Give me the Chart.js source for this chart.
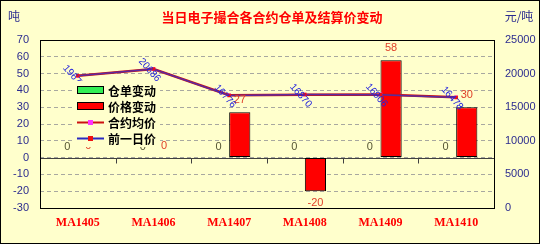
<!DOCTYPE html>
<html>
<head>
<meta charset="utf-8">
<script src="https://cdn.jsdelivr.net/npm/chart.js@4/dist/chart.umd.min.js"></script>
<style>
html,body{margin:0;padding:0;background:#fff;}
#wrap{width:542px;height:247px;position:relative;}
</style>
</head>
<body>
<div id="wrap"><canvas id="c" width="542" height="247"></canvas></div>
<script>
// ---- data ----
const categories = ['MA1405', 'MA1406', 'MA1407', 'MA1408', 'MA1409', 'MA1410'];
const receiptChange = [0, 0, 0, 0, 0, 0];        // 仓单变动 (吨)
const priceChange = [0, 0, 27, -20, 58, 30];      // 价格变动
const avgPrice = [19677, 20686, 16776, 16870, 16906, 16478];   // 合约均价
const prevPrice = [19677, 20686, 16749, 16890, 16848, 16448];  // 前一日价
const leftTicks = [-30, -20, -10, 0, 10, 20, 30, 40, 50, 60, 70];
const rightTicks = [0, 5000, 10000, 15000, 20000, 25000];
const seriesNames = ['仓单变动', '价格变动', '合约均价', '前一日价'];
const titleText = '当日电子撮合各合约仓单及结算价变动';
const leftUnit = '吨';
const rightUnit = '元/吨';

const BG = '#FFFFCC';
const NAVY = '#2B2B8F';

const decorPlugin = {
  id: 'decor',
  beforeDraw(chart) {
    const ctx = chart.ctx;
    ctx.save();
    ctx.fillStyle = '#fff';
    ctx.fillRect(0, 0, 542, 247);
    ctx.fillStyle = BG;
    ctx.fillRect(0, 0, 540, 244);
    ctx.strokeStyle = '#000';
    ctx.lineWidth = 1;
    ctx.strokeRect(0.5, 0.5, 539, 243);
    ctx.fillStyle = '#FF0000';
    ctx.font = 'bold 13px "Noto Sans CJK SC"';
    ctx.textAlign = 'center';
    ctx.textBaseline = 'middle';
    ctx.fillText(titleText, 272, 17);
    ctx.fillStyle = NAVY;
    ctx.font = '12px "Noto Sans CJK SC"';
    ctx.fillText(leftUnit, 14, 16);
    ctx.fillText(rightUnit, 519, 16);
    ctx.restore();
  },
  beforeDatasetsDraw(chart) {
    const ctx = chart.ctx;
    const a = chart.chartArea;
    const y0 = Math.round(chart.scales.y.getPixelForValue(0)) + 0.5;
    ctx.save();
    ctx.strokeStyle = '#404040';
    ctx.lineWidth = 1;
    ctx.beginPath();
    ctx.moveTo(a.left, y0);
    ctx.lineTo(a.right, y0);
    const xs = chart.scales.x;
    for (let i = 1; i < categories.length; i++) {
      const bx = Math.round((xs.getPixelForValue(i - 1) + xs.getPixelForValue(i)) / 2) + 0.5;
      ctx.moveTo(bx, y0);
      ctx.lineTo(bx, y0 + 5);
    }
    ctx.stroke();
    ctx.strokeStyle = '#000';
    ctx.strokeRect(Math.round(a.left) + 0.5, Math.round(a.top) + 0.5,
      Math.round(a.right - a.left), Math.round(a.bottom - a.top));
    ctx.restore();
  },
  afterDatasetsDraw(chart) {
    const ctx = chart.ctx;
    ctx.save();
    ctx.textAlign = 'center';
    ctx.textBaseline = 'middle';
    ctx.font = '11px "Liberation Sans"';
    // bar labels
    const m0 = chart.getDatasetMeta(0), m1 = chart.getDatasetMeta(1);
    m0.data.forEach((el, i) => {
      const v = receiptChange[i];
      ctx.fillStyle = '#555533';
      ctx.fillText(String(v), el.x, v >= 0 ? el.y - 11 : el.y + 11);
    });
    m1.data.forEach((el, i) => {
      const v = priceChange[i];
      ctx.fillStyle = '#E0402A';
      ctx.fillText(String(v), el.x, v >= 0 ? el.y - 12 : el.y + 12);
    });
    // line labels (rotated)
    const m2 = chart.getDatasetMeta(2);
    ctx.fillStyle = '#2222DD';
    ctx.font = '10px "Liberation Sans"';
    m2.data.forEach((el, i) => {
      ctx.save();
      ctx.translate(el.x - 4, el.y + 1);
      ctx.rotate(Math.PI * 0.27);
      ctx.fillText(String(avgPrice[i]), 0, 0);
      ctx.restore();
    });
    // legend
    ctx.fillStyle = BG;
    ctx.fillRect(72, 81, 88, 66);
    const rows = [90, 106, 122, 138];
    ctx.font = 'bold 12px "Noto Sans CJK SC"';
    ctx.textAlign = 'left';
    rows.forEach((ry, i) => {
      if (i < 2) {
        ctx.fillStyle = i === 0 ? '#33EE55' : '#FF0000';
        ctx.fillRect(77.5, ry - 3.5, 26, 7);
        ctx.strokeStyle = '#000';
        ctx.lineWidth = 1;
        ctx.strokeRect(77.5, ry - 3.5, 26, 7);
      } else {
        ctx.strokeStyle = i === 2 ? '#CC1111' : '#2A2AC0';
        ctx.lineWidth = 2;
        ctx.beginPath();
        ctx.moveTo(77, ry + 0.5);
        ctx.lineTo(104, ry + 0.5);
        ctx.stroke();
        ctx.fillStyle = i === 2 ? '#FF33FF' : '#EE1111';
        ctx.fillRect(88, ry - 2, 5, 5);
      }
      ctx.fillStyle = '#000';
      ctx.fillText(seriesNames[i], 108, ry + 1);
    });
    ctx.restore();
  }
};

new Chart(document.getElementById('c'), {
  type: 'bar',
  data: {
    labels: categories,
    datasets: [
      {
        label: seriesNames[0], data: receiptChange, yAxisID: 'y',
        backgroundColor: '#33EE55', borderColor: '#000', borderWidth: 1,
        borderSkipped: false, order: 3,
        categoryPercentage: 0.56, barPercentage: 1.0
      },
      {
        label: seriesNames[1], data: priceChange, yAxisID: 'y',
        backgroundColor: '#FF0000', borderColor: '#000', borderWidth: 1,
        borderSkipped: false, order: 3,
        categoryPercentage: 0.56, barPercentage: 1.0
      },
      {
        type: 'line', label: seriesNames[2], data: avgPrice, yAxisID: 'y2',
        borderColor: '#CC1111', borderWidth: 2.5, backgroundColor: '#FF33FF',
        pointStyle: 'rect', pointRadius: 2.5, pointBorderWidth: 0,
        pointBackgroundColor: '#FF33FF', tension: 0, order: 2
      },
      {
        type: 'line', label: seriesNames[3], data: prevPrice, yAxisID: 'y2',
        borderColor: '#5A2AA0', borderWidth: 1.5, backgroundColor: '#EE1111',
        pointStyle: 'rect', pointRadius: 2.5, pointBorderWidth: 0,
        pointBackgroundColor: '#EE1111', tension: 0, order: 1
      }
    ]
  },
  options: {
    responsive: false,
    animation: false,
    events: [],
    layout: { padding: { top: 40, left: 0, right: 0, bottom: 0 } },
    plugins: { legend: { display: false }, tooltip: { enabled: false }, title: { display: false } },
    scales: {
      x: {
        grid: { display: false, drawTicks: false },
        border: { display: false },
        ticks: {
          color: '#FF0000', padding: 8,
          font: { family: '"Liberation Serif"', size: 12, weight: 'bold' },
          maxRotation: 0, autoSkip: false
        },
        afterFit: s => { s.height = 39; }
      },
      y: {
        position: 'left', min: -30, max: 70,
        afterBuildTicks: s => { s.ticks = leftTicks.map(v => ({ value: v })); },
        grid: { color: '#A8A8A0', lineWidth: 1, drawTicks: false },
        border: { display: false, dash: [4, 3] },
        ticks: { color: NAVY, padding: 11, font: { family: '"Liberation Sans"', size: 11 },
                 callback: v => String(v) },
        afterFit: s => { s.width = 40; }
      },
      y2: {
        position: 'right', min: 0, max: 25000,
        afterBuildTicks: s => { s.ticks = rightTicks.map(v => ({ value: v })); },
        grid: { display: false, drawTicks: false },
        border: { display: false },
        ticks: { color: NAVY, padding: 11, font: { family: '"Liberation Sans"', size: 11 },
                 callback: v => String(v) },
        afterFit: s => { s.width = 48; }
      }
    }
  },
  plugins: [decorPlugin]
});
</script>
</body>
</html>
